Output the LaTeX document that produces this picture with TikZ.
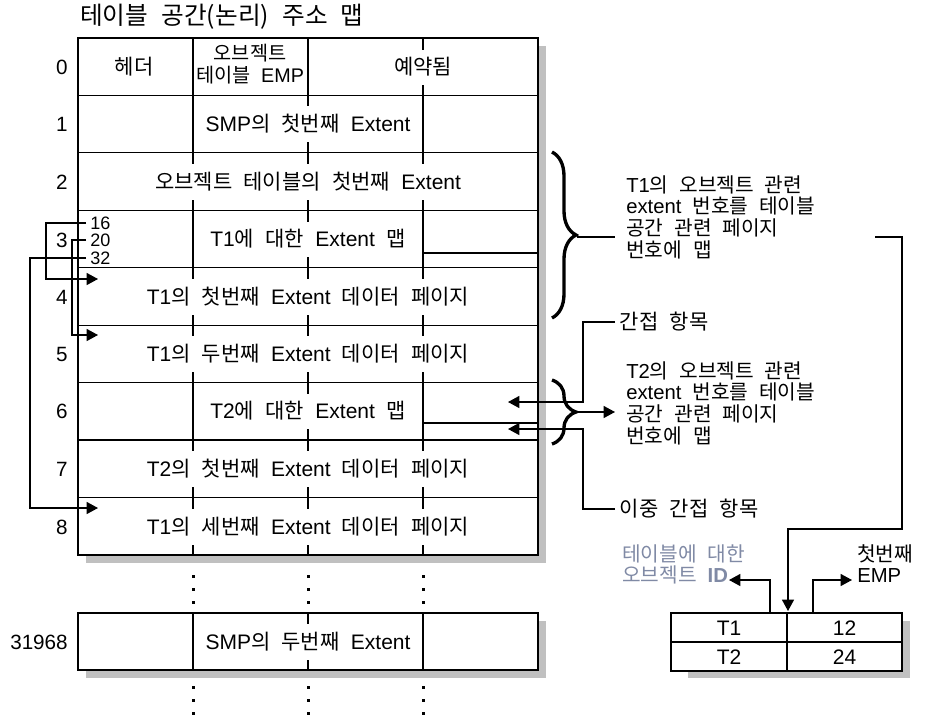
\documentclass[tikz,border=0pt]{standalone}
\usepackage{fontspec}
\setmainfont{Noto Sans CJK KR}[Scale=1.0,WordSpace=2.4]
\newfontfamily\krf{Noto Sans CJK KR}[Scale=1.0,WordSpace=2.4]
\newfontfamily\laf{Liberation Sans}
\usetikzlibrary{arrows.meta,decorations.pathreplacing}
\newcount\mycnt
\def\setlat#1#2{\mycnt=#1 \loop \XeTeXcharclass\mycnt=7 \ifnum\mycnt<#2 \advance\mycnt by 1 \repeat}
\setlat{`0}{`9}\setlat{`A}{`Z}\setlat{`a}{`z}
\XeTeXinterchartoks 0 7 = {\laf}
\XeTeXinterchartoks 4095 7 = {\laf}
\XeTeXinterchartoks 7 0 = {\krf}
\XeTeXinterchartoks 7 4095 = {\krf}
\XeTeXinterchartokenstate=1
\definecolor{shd}{RGB}{192,192,192}
\definecolor{gblue}{RGB}{128,138,165}
\tikzset{
  tbl/.style={line width=0.9pt},
  conn/.style={line width=0.9pt},
  arr/.style={conn,-{Triangle[length=8.5pt,width=9pt]}},
  brc/.style={decorate,decoration={brace,amplitude=18pt},line width=2.5pt},
  cell/.style={font=\fontsize{15.75}{16.5}\selectfont,fill=white,inner xsep=2pt,inner ysep=6pt},
  plain/.style={font=\fontsize{15.75}{16.5}\selectfont,inner sep=0pt},
  num/.style={font=\fontsize{15.5}{16}\selectfont,anchor=east,inner sep=0pt},
  small/.style={font=\fontsize{13.5}{14}\selectfont,anchor=west,inner xsep=3pt,inner ysep=0pt},
  rtxt/.style={font=\fontsize{15.2}{16.4}\selectfont,anchor=north west,align=left,inner sep=0pt},
  lab/.style={font=\fontsize{15.75}{16}\selectfont,anchor=west,inner xsep=3.5pt,inner ysep=0pt},
}
\begin{document}
\begin{tikzpicture}[x=0.75pt,y=-0.75pt]
\useasboundingbox (0,0) rectangle (925,718);
% title
\node[anchor=west,font=\fontsize{18.5}{20}\selectfont,inner sep=0pt] (title) at (80,17) {테이블 공간(논리) 주소 맵};
% main table
\fill[shd] (86,46) rectangle (546,563);
\draw[tbl,fill=white] (78,38) rectangle (538,555);
\foreach \i in {1,...,8} \draw[tbl] (78,{38+57.44*\i}) -- (538,{38+57.44*\i});
\foreach \x in {193,308,423} \draw[tbl] (\x,38) -- (\x,555);
\draw[tbl] (423,253) -- (538,253);
\draw[tbl] (423,423) -- (538,423);
% row numbers
\node[num] (n0) at (68,67) {0};
\node[num] (n1) at (68,124) {1};
\node[num] (n2) at (68,182) {2};
\node[num] (n3) at (68,240) {3};
\node[num] (n4) at (68,297) {4};
\node[num] (n5) at (68,354) {5};
\node[num] (n6) at (68,411) {6};
\node[num] (n7) at (68,469) {7};
\node[num] (n8) at (68,527) {8};
% row texts
\node[cell] (c0a) at (134,67) {헤더};
\node[plain,align=center,font=\fontsize{14.8}{16.5}\selectfont] (c0b) at (250,64) {오브젝트\\테이블 EMP};
\node[cell] (c0c) at (423,67) {예약됨};
\node[cell] (c1) at (308,124) {SMP의 첫번째 Extent};
\node[cell] (c2) at (308,182) {오브젝트 테이블의 첫번째 Extent};
\node[cell] (c3) at (308,239) {T1에 대한 Extent 맵};
\node[cell] (c4) at (308,297) {T1의 첫번째 Extent 데이터 페이지};
\node[cell] (c5) at (308,354) {T1의 두번째 Extent 데이터 페이지};
\node[cell] (c6) at (308,411) {T2에 대한 Extent 맵};
\node[cell] (c7) at (308,469) {T2의 첫번째 Extent 데이터 페이지};
\node[cell] (c8) at (308,527) {T1의 세번째 Extent 데이터 페이지};
% extent map entries
\node[small] (l16) at (86,223) {16};
\node[small] (l20) at (86,240) {20};
\node[small] (l32) at (86,258) {32};
\coordinate (a4) at (98,279);
\coordinate (a5) at (98,335);
\coordinate (a8) at (98,508);
\draw[arr] (l16.west) -- ++(-40,0) |- (a4);
\draw[arr] (l20.west) -- ++(-14,0) |- (a5);
\draw[arr] (l32.west) -- ++(-56,0) |- (a8);
% dots
\foreach \x in {193,308,423}
  \foreach \y in {576,589,602,687,700,713}
    \fill (\x-1.5,\y-1.5) rectangle ++(3,3);
% row 31968
\fill[shd] (86,621) rectangle (546,678);
\draw[tbl,fill=white] (78,613) rectangle (538,670);
\foreach \x in {193,308,423} \draw[tbl] (\x,613) -- (\x,670);
\node[cell] (cl) at (308,642) {SMP의 두번째 Extent};
\node[num] (nl) at (68,642) {31968};
% brace 1 and text
\draw[brc] (552,152) -- (552,318);
\coordinate (b1tip) at (577,237);
\coordinate (t1l) at (615,237);
\draw[conn] (b1tip) -- (t1l);
\node[rtxt] (t1txt) at (626,175) {T1의 오브젝트 관련\\extent 번호를 테이블\\공간 관련 페이지\\번호에 맵};
\coordinate (t1r) at (875,237);
\coordinate (tabtop) at (788,611);
\draw[arr] (t1r) -| (902,529) -| (tabtop);
% brace 2 and text
\draw[brc] (552,380) -- (552,444);
\coordinate (b2tip) at (577,412);
\coordinate (t2l) at (615,412);
\draw[arr] (b2tip) -- (t2l);
\node[rtxt] (t2txt) at (626,361) {T2의 오브젝트 관련\\extent 번호를 테이블\\공간 관련 페이지\\번호에 맵};
% indirect entries
\node[lab] (indir) at (615,322) {간접 항목};
\node[lab] (dbl) at (615,509) {이중 간접 항목};
\coordinate (t2a) at (508,402);
\coordinate (t2b) at (508,429);
\draw[arr] (indir.west) -- ++(-32,0) |- (t2a);
\draw[arr] (dbl.west) -- ++(-32,0) |- (t2b);
% small table
\fill[shd] (688,621) rectangle (910,678);
\draw[tbl,fill=white] (671,613) rectangle (902,671);
\draw[tbl] (787,613) -- (787,671);
\draw[tbl] (671,642) -- (902,642);
\node[plain] (s11) at (729,628) {T1};
\node[plain] (s12) at (844.5,628) {12};
\node[plain] (s21) at (729,657) {T2};
\node[plain] (s22) at (844.5,657) {24};
\coordinate (idfoot) at (770,613);
\coordinate (idtip) at (729,580);
\coordinate (empfoot) at (813,613);
\coordinate (emptip) at (852,580);
\draw[arr] (idfoot) |- (idtip);
\draw[arr] (empfoot) |- (emptip);
\node[rtxt,text=gblue] (idlab) at (622,544) {테이블에 대한\\오브젝트 \textbf{ID}};
\node[rtxt] (emplab) at (857,544) {첫번째\\EMP};
\end{tikzpicture}
\end{document}
